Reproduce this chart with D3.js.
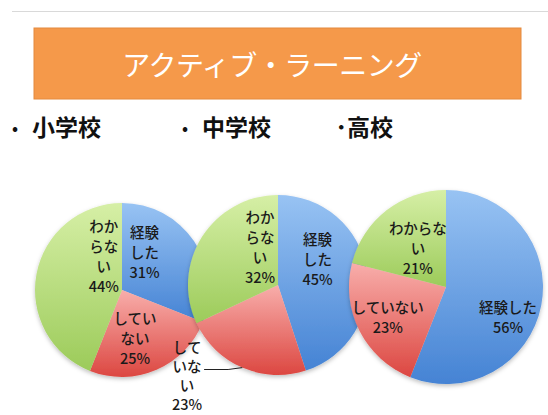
<!DOCTYPE html>
<html lang="ja">
<head>
<meta charset="utf-8">
<script src="https://cdn.jsdelivr.net/npm/d3@7"></script>
<style>
  html, body { margin: 0; padding: 0; background: #ffffff; }
  svg { display: block; font-family: "Noto Sans CJK JP", "Noto Sans", sans-serif; }
</style>
</head>
<body>
<svg id="chart" width="548" height="415"></svg>
<script>
// Survey results: share of schools that have tried active learning
const title = "アクティブ・ラーニング";
const schools = ["小学校", "中学校", "高校"];
const bulletMarks = ["•", "•", "･"];
const categories = ["経験した", "していない", "わからない"];
const elementary = [31, 25, 44];
const juniorHigh = [45, 23, 32];
const highSchool = [56, 23, 21];
const seriesValues = [elementary, juniorHigh, highSchool];

// Layout: pie centres/radii, label placement (relative to radius) and line wrapping
const pieLayout = [
  { cx: 122, cy: 290, r: 87 },
  { cx: 278, cy: 285, r: 90 },
  { cx: 446, cy: 287, r: 97 }
];
const labelLayout = [
  [ { wrap: [2, 2], dx: 0.26, dy: -0.44 },
    { wrap: [3, 2], dx: 0.15, dy: 0.55 },
    { wrap: [2, 2, 1], dx: -0.21, dy: -0.40 } ],
  [ { wrap: [2, 2], dx: 0.44, dy: -0.30 },
    { wrap: [2, 2, 1], dx: -1.01, dy: 1.0, lineH: 19, leader: true },
    { wrap: [2, 2, 1], dx: -0.20, dy: -0.43 } ],
  [ { wrap: [4], dx: 0.64, dy: 0.30 },
    { wrap: [5], dx: -0.60, dy: 0.30 },
    { wrap: [4, 1], dx: -0.29, dy: -0.41 } ]
];
const sliceColors = [
  { top: "#98c3f3", bottom: "#4583d4" },
  { top: "#f8aeab", bottom: "#dc4741" },
  { top: "#d6efa6", bottom: "#9ccb5a" }
];

const svg = d3.select("#chart");
const defs = svg.append("defs");

sliceColors.forEach((c, i) => {
  const g = defs.append("linearGradient")
    .attr("id", "grad" + i)
    .attr("x1", 0).attr("y1", 0).attr("x2", 0).attr("y2", 1);
  g.append("stop").attr("offset", "0%").attr("stop-color", c.top);
  g.append("stop").attr("offset", "100%").attr("stop-color", c.bottom);
});

const shadow = defs.append("filter").attr("id", "pieShadow")
  .attr("x", "-20%").attr("y", "-20%").attr("width", "140%").attr("height", "140%");
shadow.append("feDropShadow")
  .attr("dx", 0).attr("dy", 2).attr("stdDeviation", 2)
  .attr("flood-color", "#000").attr("flood-opacity", 0.25);

// Thin rule across the top
svg.append("line")
  .attr("x1", 12).attr("x2", 548).attr("y1", 11.5).attr("y2", 11.5)
  .attr("stroke", "#d9d9d9").attr("stroke-width", 1);

// Title banner
svg.append("rect")
  .attr("x", 34).attr("y", 28).attr("width", 487).attr("height", 71)
  .attr("fill", "#f5994a").attr("stroke", "#e48a3e").attr("stroke-width", 1);
svg.append("text")
  .attr("x", 272).attr("y", 64)
  .attr("text-anchor", "middle").attr("dominant-baseline", "central")
  .attr("fill", "#ffffff").attr("font-size", 28).attr("font-weight", 400)
  .attr("letter-spacing", -0.5)
  .text(title);

// School headings: round bullets stand apart, the last heading's middle dot
// sits right against its text
const headingX = [15, 185, 335.5];
const headingTextX = [32, 202];
schools.forEach((s, i) => {
  if (i < 2) {
    svg.append("text")
      .attr("x", headingX[i]).attr("y", 127)
      .attr("text-anchor", "middle")
      .attr("dominant-baseline", "central")
      .attr("font-size", 16).attr("font-weight", 700).attr("fill", "#111")
      .text(bulletMarks[i]);
    svg.append("text")
      .attr("x", headingTextX[i]).attr("y", 126)
      .attr("dominant-baseline", "central")
      .attr("font-size", 23).attr("font-weight", 700).attr("fill", "#111")
      .text(s);
  } else {
    svg.append("text")
      .attr("x", headingX[i]).attr("y", 126)
      .attr("dominant-baseline", "central")
      .attr("font-size", 23).attr("font-weight", 700).attr("fill", "#111")
      .text(bulletMarks[i] + s);
  }
});

// Pies: first slice starts at 12 o'clock and runs clockwise, in category order
const pie = d3.pie().sort(null).value(d => d.value)
  .startAngle(0).endAngle(2 * Math.PI);

function wrapLabel(name, value, wrap) {
  const lines = [];
  let pos = 0;
  wrap.forEach(n => { lines.push(name.slice(pos, pos + n)); pos += n; });
  lines.push(value + "%");
  return lines;
}

seriesValues.forEach((vals, p) => {
  const L = pieLayout[p];
  const data = categories.map((c, i) => ({ name: c, value: vals[i], idx: i }));
  const arcs = pie(data);
  const arc = d3.arc().innerRadius(0).outerRadius(L.r);

  const g = svg.append("g").attr("transform", `translate(${L.cx},${L.cy})`);
  g.append("g").attr("filter", "url(#pieShadow)")
    .selectAll("path").data(arcs).join("path")
    .attr("d", arc)
    .attr("fill", d => `url(#grad${d.data.idx})`);

  arcs.forEach(a => {
    const lay = labelLayout[p][a.data.idx];
    const lineH = lay.lineH || 20;
    const lines = wrapLabel(a.data.name, a.data.value, lay.wrap);
    const lx = lay.dx * L.r, ly = lay.dy * L.r;
    const t = g.append("text")
      .attr("text-anchor", "middle")
      .attr("font-size", 14.5).attr("font-weight", 500).attr("fill", "#1a1a1a");
    lines.forEach((ln, k) => {
      t.append("tspan")
        .attr("x", lx)
        .attr("y", ly + (k - (lines.length - 1) / 2) * lineH)
        .attr("dominant-baseline", "central")
        .text(ln);
    });
    if (lay.leader) {
      const mid = (a.startAngle + a.endAngle) / 2;
      const ex = Math.sin(mid) * L.r, ey = -Math.cos(mid) * L.r;
      const sy = ly + (1 - (lines.length - 1) / 2) * lineH + 4;
      const sx = lx + 17;
      g.append("polyline")
        .attr("points", [[sx, sy], [sx + 24, sy], [ex, ey]].map(q => q.join(",")).join(" "))
        .attr("fill", "none").attr("stroke", "#222").attr("stroke-width", 1);
    }
  });
});
</script>
</body>
</html>
